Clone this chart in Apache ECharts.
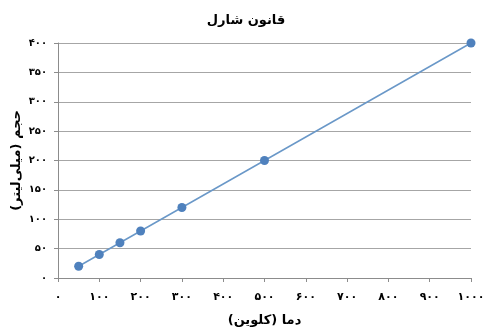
<!DOCTYPE html>
<html><head><meta charset="utf-8">
<script src="https://cdn.jsdelivr.net/npm/echarts@6/dist/echarts.min.js"></script>
<style>html,body{margin:0;padding:0;background:#fff}#c{width:492px;height:329px}</style>
</head><body><div id="c"></div>
<script>
const temperatures = [50, 100, 150, 200, 300, 500, 1000];
const volumes = [20, 40, 60, 80, 120, 200, 400];
const titleText = 'قانون شارل';
const xName = 'دما (کلوین)';
const yName = 'حجم (میلی‌لیتر)';
const fa = ['۰','۱','۲','۳','۴','۵','۶','۷','۸','۹'];
function toFa(v){ return String(v).replace(/[0-9]/g, d => fa[+d]); }
const F = 'DejaVu Sans';
const chart = echarts.init(document.getElementById('c'), null, {renderer:'canvas'});
chart.setOption({
  animation:false,
  title:{text:titleText,left:'center',top:9,textStyle:{fontFamily:F,fontSize:13,fontWeight:'bold',color:'#000'}},
  grid:{left:58,right:21,top:43,bottom:51,containLabel:false,outerBoundsMode:'none'},
  xAxis:{type:'value',min:0,max:1000,interval:100,
    name:xName,nameLocation:'middle',nameGap:36,nameMoveOverlap:false,
    nameTextStyle:{fontFamily:F,fontSize:13,fontWeight:'bold',color:'#000'},
    axisLine:{show:true,lineStyle:{color:'#8c8c8c'}},
    axisTick:{show:true,length:4,lineStyle:{color:'#8c8c8c'}},
    splitLine:{show:false},
    axisLabel:{formatter:v=>toFa(v),fontFamily:F,fontSize:11,fontWeight:'bold',color:'#000',margin:14}},
  yAxis:{type:'value',min:0,max:400,interval:50,
    name:yName,nameLocation:'middle',nameGap:35,nameRotate:90,nameMoveOverlap:false,
    nameTextStyle:{fontFamily:F,fontSize:13,fontWeight:'bold',color:'#000'},
    axisLine:{show:true,lineStyle:{color:'#8c8c8c'}},
    axisTick:{show:true,length:4,lineStyle:{color:'#8c8c8c'}},
    splitLine:{show:true,lineStyle:{color:'#a6a6a6'}},
    axisLabel:{formatter:v=>toFa(v),fontFamily:F,fontSize:10,fontWeight:'bold',color:'#000',margin:11}},
  series:[{type:'line',data:temperatures.map((t,i)=>[t,volumes[i]]),
    symbol:'circle',symbolSize:9,
    lineStyle:{color:'#6a98c8',width:1.5},
    itemStyle:{color:'#4f81bd'}}]
});
</script></body></html>
